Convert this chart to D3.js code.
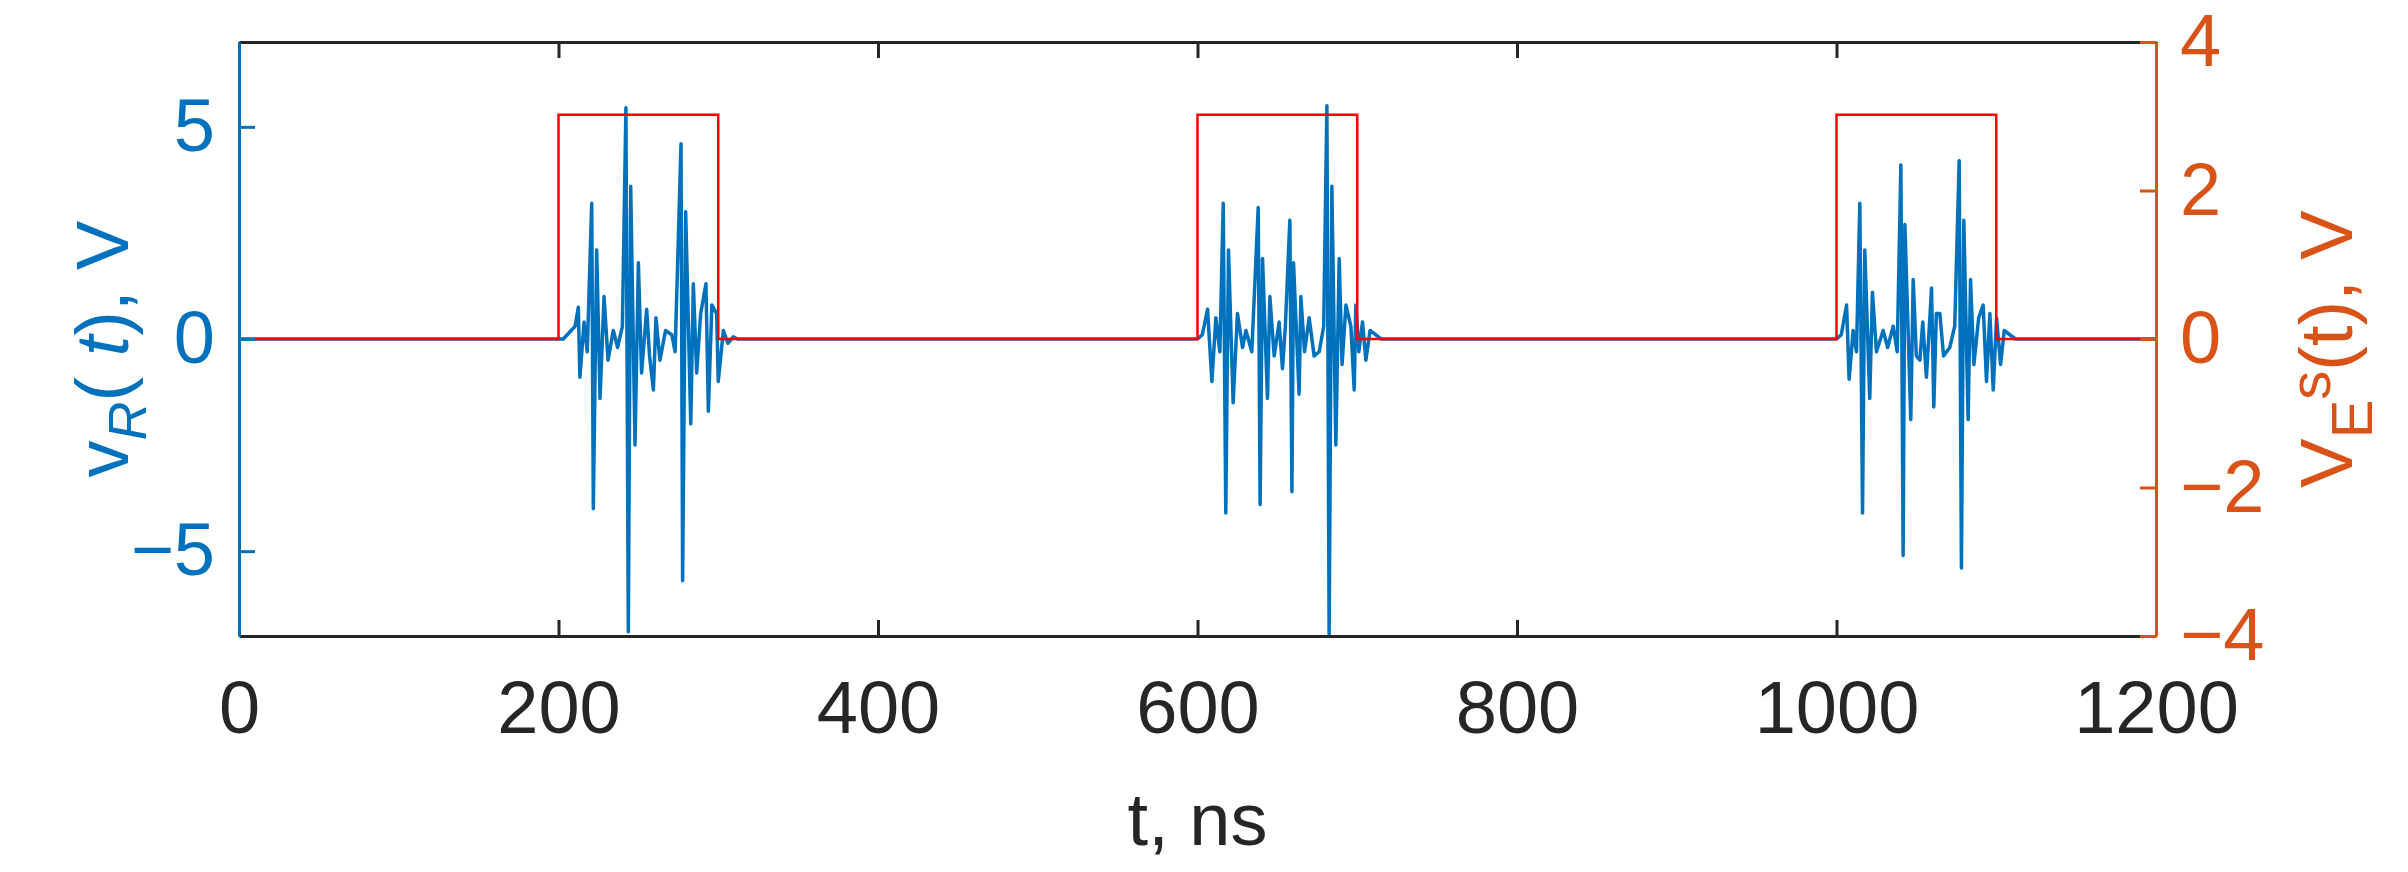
<!DOCTYPE html>
<html><head><meta charset="utf-8">
<script src="https://cdn.jsdelivr.net/npm/d3@7"></script>
<style>body{margin:0;background:#fff}svg{display:block}text{font-family:"Liberation Sans",Arial,sans-serif}</style>
</head><body><svg id="c" width="2408" height="872"></svg>
<script>
// ---- data ----
const xTicks = [0, 200, 400, 600, 800, 1000, 1200];
const yLeftTicks = [-5, 0, 5];
const yRightTicks = [-4, -2, 0, 2, 4];
// excitation pulse V_E^s(t), V (right axis)
const pulseT = [0, 200, 200, 300, 300, 600, 600, 700, 700, 1000, 1000, 1100, 1100, 1200];
const pulseV = [0, 0, 3.02, 3.02, 0, 0, 3.02, 3.02, 0, 0, 3.02, 3.02, 0, 0];
// response v_R(t), V (left axis) — burst 1
const burst1T = [0,203,210.4,212.4,213.4,216,218,220.8,221.8,223.9,226,228.5,231,234.3,237,240,242.2,243.7,245.2,247.9,250,252,255.2,257,259.4,261,263.5,267,270.9,273,276.7,277.7,279.6,282.8,284.4,286.5,289,292.3,293.8,296,299,300,303.2,306,309.4,312];
const burst1V = [0,0,0.3,0.75,-0.9,0.4,-0.3,3.2,-4.0,2.1,-1.4,1.0,-0.5,0.2,-0.2,0.3,5.45,-6.9,3.6,-2.5,1.8,-0.8,0.7,-0.4,-1.2,0.5,-0.5,0.2,0.1,-0.3,4.6,-5.7,3.0,-2.0,1.3,-0.8,0.6,1.3,-1.7,0.8,0.6,-1.0,0.2,-0.1,0.05,0];
// burst 2
const burst2T = [600,603,606.3,609.0,611.5,614,616.1,617.7,619.4,622.3,625,628.2,630.3,634,638.0,639.2,640.7,643.8,645.3,648,651.1,653.2,655,657.8,659.1,660.1,663.6,664.7,667,669.9,673,676.2,679,681.0,682.4,684.1,686.6,688.7,690.5,692.9,696,698.1,699.1,701,703.3,705.4,708,711.6,715];
const burst2V = [0,0.1,0.7,-1.0,0.5,-0.3,3.2,-4.1,2.1,-1.5,0.6,-0.2,0.2,-0.3,3.1,-3.9,1.9,-1.4,1.0,-0.4,0.4,-0.7,0.3,2.8,-3.6,1.8,-1.3,1.0,-0.3,0.5,-0.4,-0.3,0.3,5.5,-7.0,3.6,-2.5,1.9,-0.6,0.8,0.3,-1.2,0.8,-0.3,0.4,-0.5,0.2,0.1,0];
// burst 3
const burst3T = [1000,1003,1006.3,1007.9,1010.4,1012.5,1014.6,1016.3,1017.7,1020.8,1022.5,1025,1029.2,1032,1035.5,1038,1040.3,1041.7,1042.8,1046.5,1048.0,1050,1052.2,1054,1056.3,1059.5,1060.9,1062.5,1064.7,1067,1070.9,1074,1076.8,1078.2,1079.7,1082.4,1083.9,1086,1089,1091.8,1093.9,1096,1098.1,1100.2,1102.7,1105,1108.5,1112];
const burst3V = [0,0.1,0.8,-0.95,0.2,-0.3,3.2,-4.1,2.1,-1.4,1.1,-0.3,0.2,-0.2,0.3,-0.3,4.1,-5.1,2.7,-1.9,1.4,-0.4,-0.5,0.4,-0.9,1.2,-1.6,0.6,0.6,-0.4,-0.2,0.3,4.2,-5.4,2.8,-1.9,1.4,-0.6,0.5,0.8,-1.0,0.6,-1.2,0.5,-0.6,0.2,0.1,0];

// ---- layout ----
const L = 239, R = 2156, T = 42, B = 636;
const x = d3.scaleLinear().domain([0, 1200]).range([L, R]);
const yL = d3.scaleLinear().domain([-7, 7]).range([B, T]);
const yR = d3.scaleLinear().domain([-4, 4]).range([B, T]);
const BLUE = "#0072BD", ORANGE = "#D95319", DARK = "#262626";
const svg = d3.select("#c");
const FS = 74;

const resp = [];
[[burst1T, burst1V], [burst2T, burst2V], [burst3T, burst3V]].forEach(([ts, vs]) => {
  ts.forEach((t, j) => resp.push([t, vs[j]]));
});
resp.push([1200, 0]);
const line = d3.line();
svg.append("path")
  .attr("d", line(resp.map(d => [x(d[0]), yL(d[1])])))
  .attr("fill", "none").attr("stroke", BLUE).attr("stroke-width", 3.5).attr("stroke-linejoin", "round");
svg.append("path")
  .attr("d", line(pulseT.map((t, i) => [x(t), yR(pulseV[i])])))
  .attr("fill", "none").attr("stroke", "#FF0000").attr("stroke-width", 2.5);

const xb = svg.append("g").attr("transform", `translate(0,${B})`)
  .call(d3.axisBottom(x).tickValues(xTicks).tickSizeInner(-16).tickSizeOuter(0).tickPadding(44).tickFormat(d3.format("d")));
const xt = svg.append("g").attr("transform", `translate(0,${T})`)
  .call(d3.axisTop(x).tickValues(xTicks).tickSizeInner(-16).tickSizeOuter(0).tickFormat(""));
[xb, xt].forEach(g => { g.selectAll("path,line").attr("stroke", DARK).attr("stroke-width", 3); });
xb.selectAll("text").attr("font-size", FS).attr("fill", DARK).attr("font-family", "Liberation Sans, Arial");

const yl = svg.append("g").attr("transform", `translate(${L},0)`)
  .call(d3.axisLeft(yL).tickValues(yLeftTicks).tickSizeInner(-16).tickSizeOuter(0).tickPadding(24).tickFormat(d => d < 0 ? "\u2212" + Math.abs(d) : d));
yl.selectAll("path,line").attr("stroke", BLUE).attr("stroke-width", 3);
yl.selectAll("text").attr("font-size", FS).attr("fill", BLUE).attr("font-family", "Liberation Sans, Arial");

const yr = svg.append("g").attr("transform", `translate(${R},0)`)
  .call(d3.axisRight(yR).tickValues(yRightTicks).tickSizeInner(-16).tickSizeOuter(0).tickPadding(24).tickFormat(d => d < 0 ? "\u2212" + Math.abs(d) : d));
yr.selectAll("path,line").attr("stroke", ORANGE).attr("stroke-width", 3);
yr.selectAll("text").attr("font-size", FS).attr("fill", ORANGE).attr("font-family", "Liberation Sans, Arial");

svg.append("text").attr("x", (L + R) / 2).attr("y", 845).attr("text-anchor", "middle")
  .attr("font-size", 74).attr("fill", DARK).text("t, ns");

const ll = svg.append("text").attr("transform", `translate(128,${(T + B) / 2 + 10}) rotate(-90)`)
  .attr("text-anchor", "middle").attr("font-size", 74).attr("fill", BLUE);
ll.append("tspan").text("v");
ll.append("tspan").attr("font-size", 54).attr("dy", 18).attr("font-style", "italic").text("R");
ll.append("tspan").attr("dy", -18).text("( ");
ll.append("tspan").attr("font-style", "italic").text("t");
ll.append("tspan").text("), V");

const rl = svg.append("text").attr("transform", `translate(2352,${(T + B) / 2 + 10}) rotate(-90)`)
  .attr("text-anchor", "middle").attr("font-size", 74).attr("fill", ORANGE);
rl.append("tspan").text("V");
rl.append("tspan").attr("font-size", 58).attr("dy", 20).text("E");
rl.append("tspan").attr("font-size", 58).attr("dy", -42).text("s");
rl.append("tspan").attr("dy", 22).text("(t), V");
</script></body></html>
